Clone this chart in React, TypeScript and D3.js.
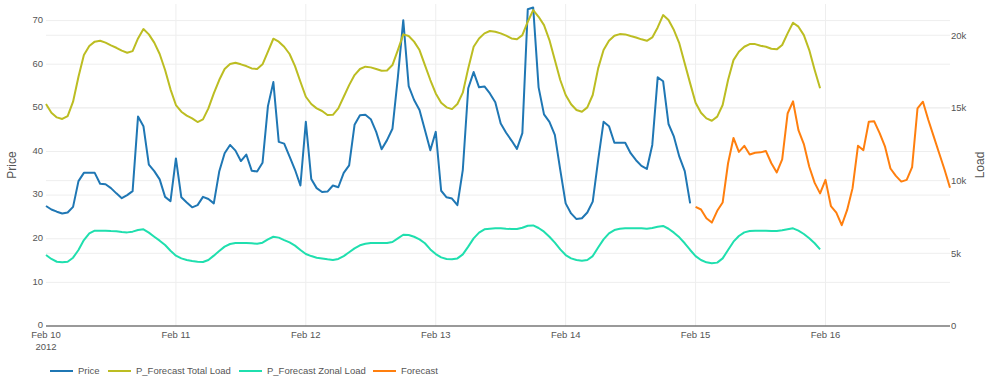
import * as d3 from 'd3';

// hourly values, Feb 10 2012 00:00 onward
const priceValues = [
  27.5, 26.7, 26.2, 25.8, 26.0, 27.3, 33.2, 35.1, 35.1, 35.1, 32.6, 32.5, 31.6, 30.4, 29.3, 30.0, 30.9, 48.0, 45.8, 37.0, 35.5, 33.6, 29.6, 28.6,
  38.4, 29.5, 28.3, 27.2, 27.7, 29.6, 29.1, 28.1, 35.4, 39.6, 41.5, 40.2, 37.8, 39.3, 35.6, 35.4, 37.4, 50.4, 55.9, 42.2, 41.8, 38.8, 35.8, 32.2,
  46.8, 33.7, 31.6, 30.7, 30.8, 32.2, 31.8, 35.1, 36.8, 46.1, 48.3, 48.4, 47.4, 44.5, 40.5, 42.6, 45.2, 57.0, 70.1, 55.0, 51.8, 49.5, 44.9, 40.3,
  44.5, 31.0, 29.5, 29.2, 27.7, 35.8, 54.5, 58.2, 54.7, 54.9, 53.3, 51.3, 46.4, 44.3, 42.5, 40.6, 44.2, 72.6, 73.0, 54.7, 48.5, 46.8, 43.8, 35.8,
  28.1, 25.8, 24.5, 24.7, 26.0, 28.5, 38.0, 46.8, 45.8, 42.0, 42.0, 42.0, 39.6, 38.0, 36.7, 36.0, 41.5, 57.0, 56.1, 46.3, 43.4, 38.8, 35.5, 28.1,
];

const totalLoad = [
  15270, 14670, 14350, 14240, 14440, 15430, 17150, 18640, 19260, 19560, 19620, 19490, 19300, 19140, 18940, 18800, 18910, 19780, 20430, 20060, 19490, 18710, 17610, 16280,
  15200, 14740, 14470, 14280, 14030, 14210, 14970, 16000, 16920, 17680, 18020, 18110, 18000, 17880, 17720, 17680, 18000, 18870, 19760, 19560, 19210, 18710, 17880, 16800,
  15770, 15270, 14970, 14790, 14510, 14530, 14970, 15770, 16570, 17260, 17680, 17840, 17790, 17680, 17560, 17580, 17950, 18980, 20060, 19950, 19560, 18980, 17950, 16920,
  16000, 15360, 15040, 14920, 15270, 16050, 17720, 19210, 19780, 20130, 20290, 20240, 20130, 19970, 19780, 19720, 20010, 20930, 21730, 21270, 20700, 19670, 18290, 16920,
  15890, 15250, 14860, 14740, 15040, 15890, 17720, 18980, 19620, 19970, 20080, 20060, 19950, 19850, 19720, 19620, 19850, 20540, 21390, 21050, 20360, 19440, 18060, 16690,
  15360, 14670, 14280, 14120, 14400, 15200, 16920, 18290, 18870, 19210, 19390, 19390, 19280, 19210, 19070, 19030, 19330, 20130, 20860, 20590, 20010, 18980, 17610, 16350,
];

const zonalLoad = [
  4880, 4610, 4420, 4380, 4420, 4700, 5230, 5910, 6370, 6560, 6560, 6560, 6530, 6510, 6460, 6440, 6490, 6600, 6650, 6420, 6140, 5870, 5570, 5180,
  4840, 4650, 4540, 4470, 4420, 4400, 4540, 4840, 5160, 5460, 5640, 5710, 5710, 5710, 5690, 5660, 5730, 5960, 6140, 6080, 5910, 5750, 5530, 5230,
  4950, 4810, 4700, 4650, 4590, 4540, 4610, 4810, 5070, 5340, 5550, 5660, 5710, 5710, 5710, 5710, 5780, 6030, 6280, 6260, 6140, 5960, 5690, 5270,
  4950, 4720, 4610, 4590, 4650, 4930, 5460, 6030, 6420, 6650, 6690, 6720, 6720, 6690, 6670, 6670, 6760, 6900, 6920, 6740, 6490, 6140, 5730, 5270,
  4880, 4650, 4540, 4490, 4540, 4810, 5400, 5960, 6370, 6600, 6690, 6720, 6720, 6720, 6720, 6690, 6740, 6830, 6880, 6690, 6420, 6100, 5690, 5230,
  4810, 4540, 4380, 4310, 4360, 4650, 5230, 5800, 6190, 6440, 6530, 6560, 6560, 6560, 6530, 6530, 6580, 6650, 6720, 6560, 6330, 6030, 5690, 5270,
];

// forecast starts Feb 15 00:00
const forecastValues = [
  27.3, 26.7, 24.7, 23.7, 26.4, 28.3, 37.3, 43.1, 39.9, 41.3, 39.3, 39.7, 39.8, 40.1, 37.3, 35.2, 38.2, 48.7, 51.5, 44.9, 41.7, 36.5, 32.8, 30.4,
  33.5, 27.5, 26.0, 23.1, 26.6, 31.6, 41.3, 40.3, 46.8, 46.9, 44.2, 41.1, 36.1, 34.4, 33.1, 33.5, 36.4, 49.9, 51.4, 47.2, 43.4, 39.6, 35.8, 31.7,
];

const priceTicks = [0, 10, 20, 30, 40, 50, 60, 70];
const loadTicks = [0, 5000, 10000, 15000, 20000];
const dayTicks = ['2012-02-10', '2012-02-11', '2012-02-12', '2012-02-13', '2012-02-14', '2012-02-15', '2012-02-16'];

const seriesNames = ['Price', 'P_Forecast Total Load', 'P_Forecast Zonal Load', 'Forecast'];
const seriesColors = ['#1f77b4', '#bcbd22', '#1fdfae', '#ff7f0e'];

const W = 999;
const H = 385;
const left = 46;
const right = 950;
const top = 4;
const bottom = 326;
const textColor = '#555';
const font = 'Arial, "Liberation Sans", sans-serif';

const start = new Date(2012, 1, 10);
const hourAt = (i: number) => d3.timeHour.offset(start, i);

export default function App() {
  const x = d3.scaleTime().domain([start, hourAt(167)]).range([left, right]);
  const yPrice = d3.scaleLinear().domain([0, 73.8]).range([bottom, top]);
  const yLoad = d3.scaleLinear().domain([0, 22150]).range([bottom, top]);

  const mk = (vals: number[], offset: number, y: d3.ScaleLinear<number, number>) =>
    d3.line<number>().x((_, i) => x(hourAt(i + offset))).y((d) => y(d))(vals) || '';

  const paths = [
    mk(priceValues, 0, yPrice),
    mk(totalLoad, 0, yLoad),
    mk(zonalLoad, 0, yLoad),
    mk(forecastValues, 120, yPrice),
  ];

  const days = dayTicks.map((s) => d3.timeParse('%Y-%m-%d')(s) as Date);
  const fmtDay = d3.timeFormat('%b %-d');
  const fmtLoad = (v: number) => (v === 0 ? '0' : `${v / 1000}k`);

  const legendX = [50, 108, 239, 373];

  return (
    <svg width={W} height={H} style={{ position: 'absolute', left: 0, top: 0, background: '#fff' }}>
      {/* grid */}
      <g stroke="#eeeeee" strokeWidth={1}>
        {days.slice(1).map((d, i) => (
          <line key={'v' + i} x1={x(d)} x2={x(d)} y1={top} y2={bottom} />
        ))}
        {priceTicks.slice(1).map((t) => (
          <line key={'p' + t} x1={left} x2={right} y1={yPrice(t)} y2={yPrice(t)} />
        ))}
        {loadTicks.slice(1).map((t) => (
          <line key={'l' + t} x1={left} x2={right} y1={yLoad(t)} y2={yLoad(t)} />
        ))}
      </g>
      <line x1={left} x2={right} y1={bottom} y2={bottom} stroke="#777" strokeWidth={1.5} />

      {/* series */}
      {paths.map((p, i) => (
        <path key={i} d={p} fill="none" stroke={seriesColors[i]} strokeWidth={2} strokeLinejoin="round" />
      ))}

      {/* axes text */}
      <g fontFamily={font} fontSize={9.5} fill={textColor}>
        {priceTicks.map((t) => (
          <text key={t} x={left - 3} y={yPrice(t) - 1} dy="0.35em" textAnchor="end">{t}</text>
        ))}
        {loadTicks.map((t) => (
          <text key={t} x={right + 1} y={yLoad(t)} dy="0.35em">{fmtLoad(t)}</text>
        ))}
        {days.map((d, i) => (
          <text key={i} x={x(d)} y={338} textAnchor="middle">{fmtDay(d)}</text>
        ))}
        <text x={x(days[0])} y={350} textAnchor="middle">2012</text>
      </g>
      <text transform={`translate(16,${(top + bottom) / 2}) rotate(-90)`} textAnchor="middle"
        fontFamily={font} fontSize={12} fill={textColor}>Price</text>
      <text transform={`translate(984,${(top + bottom) / 2}) rotate(-90)`} textAnchor="middle"
        fontFamily={font} fontSize={12} fill={textColor}>Load</text>

      {/* legend */}
      <g fontFamily={font} fontSize={9.5} fill={textColor}>
        {seriesNames.map((n, i) => (
          <g key={n} transform={`translate(${legendX[i]},371)`}>
            <line x1={0} x2={23} y1={0} y2={0} stroke={seriesColors[i]} strokeWidth={2} />
            <text x={28} y={0} dy="0.35em">{n}</text>
          </g>
        ))}
      </g>
    </svg>
  );
}
